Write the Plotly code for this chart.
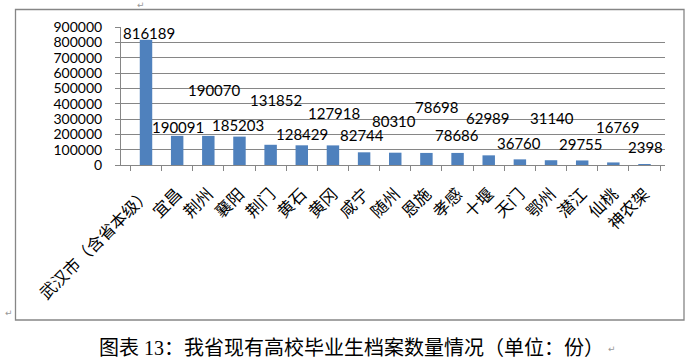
import plotly.graph_objects as go

# Archive counts of university graduates by city (unit: copies)
cities = ["武汉市（含省本级）", "宜昌", "荆州", "襄阳", "荆门", "黄石", "黄冈", "咸宁",
          "随州", "恩施", "孝感", "十堰", "天门", "鄂州", "潜江", "仙桃", "神农架"]
counts = [816189, 190091, 190070, 185203, 131852, 128429, 127918, 82744,
          80310, 78698, 78686, 62989, 36760, 31140, 29755, 16769, 2398]
y_ticks = [0, 100000, 200000, 300000, 400000, 500000, 600000, 700000, 800000, 900000]

# Value labels are staggered to avoid overlaps: vertical lift and horizontal nudge (px)
label_lift = [7, 9, 46, 12, 45, 11, 32, 17, 32, 46, 18, 37, 16, 42, 16, 35, 18]
label_nudge = [3, 1, 6, -1, 5, 0, 1, -2, -1, 11, -1, -1, -1, 1, -1, 5, 1]

W, H = 694, 364
PL, PR, PT, PB = 121, 665, 27, 165  # plot area in pixels
GRAY = "#868686"
NUM_FONT = "Lato, 'Liberation Sans', sans-serif"
CJK_FONT = "'Noto Sans CJK SC', sans-serif"


def px_to_paper(x, y):
    return (x - PL) / (PR - PL), (PB - y) / (PB - PT)


fig = go.Figure()
fig.add_trace(go.Bar(
    x=cities, y=counts,
    marker=dict(color="#4F81BD", line=dict(width=0)),
    width=0.4,
    hoverinfo="x+y",
))

annotations = []
for c, v, lift, nudge in zip(cities, counts, label_lift, label_nudge):
    annotations.append(dict(
        x=c, y=v, xref="x", yref="y", text=str(v), showarrow=False,
        yanchor="middle", xanchor="center", yshift=lift, xshift=nudge,
        font=dict(family=NUM_FONT, size=15, color="#000000"),
    ))

# Caption below the chart frame
cx, cy = px_to_paper(97, 348)
annotations.append(dict(
    x=cx, y=cy, xref="paper", yref="paper", xanchor="left", yanchor="middle",
    text="图表 13：我省现有高校毕业生档案数量情况（单位：份）", showarrow=False,
    font=dict(family="'Liberation Serif', 'Noto Sans CJK SC', serif", size=20, color="#000000"),
))

# Paragraph marks of the surrounding document
for mx, my in [(141, 5), (9, 313), (612, 349)]:
    ax, ay = px_to_paper(mx, my)
    annotations.append(dict(
        x=ax, y=ay, xref="paper", yref="paper", xanchor="center", yanchor="middle",
        text="↵", showarrow=False, font=dict(family="DejaVu Sans", size=9, color="#999999"),
    ))

# Chart frame
fx0, fy0 = px_to_paper(15.5, 320)
fx1, fy1 = px_to_paper(684, 9.5)
shapes = [dict(type="rect", xref="paper", yref="paper", x0=fx0, y0=fy0, x1=fx1, y1=fy1,
               line=dict(color=GRAY, width=1.3), fillcolor="rgba(0,0,0,0)", layer="below")]

fig.update_layout(
    width=W, height=H,
    margin=dict(l=PL, r=W - PR, t=PT, b=H - PB, pad=0),
    paper_bgcolor="white", plot_bgcolor="white",
    showlegend=False,
    bargap=0.6,
    annotations=annotations,
    shapes=shapes,
    xaxis=dict(
        type="category",
        tickangle=-45,
        tickfont=dict(family=CJK_FONT, size=16.5, color="#000000"),
        ticks="outside", ticklen=5, tickcolor=GRAY, tickson="boundaries",
        ticklabelstandoff=12,
        showline=True, linecolor=GRAY, linewidth=1,
        showgrid=False,
    ),
    yaxis=dict(
        range=[0, 900000],
        tickvals=y_ticks,
        ticktext=[str(t) for t in y_ticks],
        tickfont=dict(family=NUM_FONT, size=14, color="#000000"),
        ticks="outside", ticklen=5, tickcolor=GRAY,
        ticklabelstandoff=10,
        showline=True, linecolor=GRAY, linewidth=1,
        showgrid=True, gridcolor=GRAY, gridwidth=1,
        zeroline=False,
    ),
)

fig.write_html("out.html")
